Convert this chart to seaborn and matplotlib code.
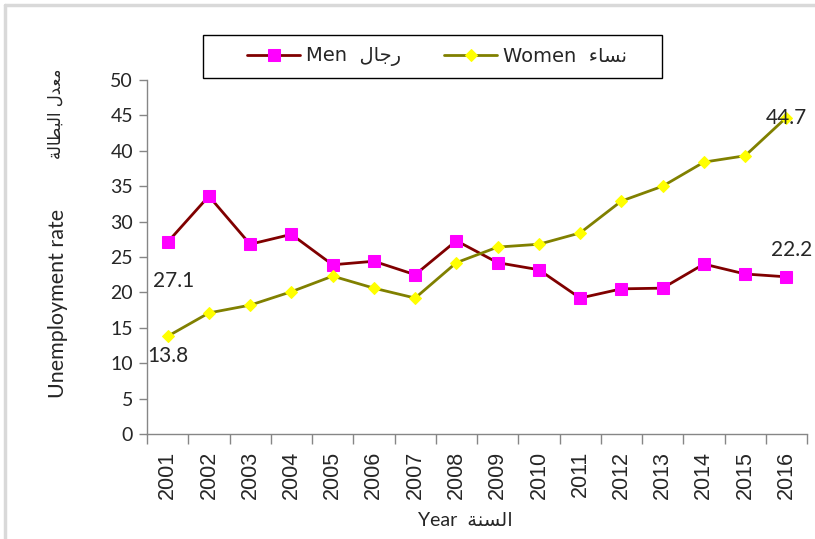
import numpy as np
import pandas as pd
import matplotlib.pyplot as plt
from matplotlib.lines import Line2D
from matplotlib.patches import Rectangle
import seaborn as sns

# data
years = ["2001", "2002", "2003", "2004", "2005", "2006", "2007", "2008",
         "2009", "2010", "2011", "2012", "2013", "2014", "2015", "2016"]
men = [27.1, 33.6, 26.8, 28.2, 23.9, 24.4, 22.5, 27.3,
       24.2, 23.2, 19.2, 20.5, 20.6, 24.0, 22.6, 22.2]
women = [13.8, 17.1, 18.2, 20.1, 22.3, 20.6, 19.2, 24.2,
         26.4, 26.8, 28.4, 32.9, 35.0, 38.4, 39.3, 44.7]

# Arabic words, written in presentation forms and visual order
# (matplotlib does no shaping / bidi on its own)
men_ar = "\uFEDD\uFE8E\uFE9F\uFEAD"            # رجال
women_ar = "\uFE80\uFE8E\uFEB4\uFEE7"          # نساء
year_ar = "\uFE94\uFEE8\uFEB4\uFEDF\uFE8D"     # السنة
rate_ar = "\uFE94\uFEDF\uFE8E\uFEC4\uFE92\uFEDF\uFE8D \uFEDD\uFEAA\uFECC\uFEE3"  # معدل البطالة

sns.set_theme(style="white")
plt.rcParams['font.family'] = ['Lato', 'DejaVu Sans']

fig = plt.figure(figsize=(8.15, 5.39), dpi=100)
ax = fig.add_axes([147 / 815, 1 - 434 / 539, 660 / 815, 354 / 539])

sns.lineplot(x=years, y=men, ax=ax, color="#800000", linewidth=2,
             marker="s", markersize=8, markerfacecolor="#FF00FF",
             markeredgecolor="#FF00FF", label="Men  " + men_ar)
sns.lineplot(x=years, y=women, ax=ax, color="#808000", linewidth=2,
             marker="D", markersize=6, markerfacecolor="#FFFF00",
             markeredgecolor="#FFFF00", label="Women  " + women_ar)

# axes styling, Excel-like
ax.set_ylim(0, 50)
ax.set_yticks(np.arange(0, 51, 5))
ax.set_xlim(-0.5, len(years) - 0.5)
ax.set_xticks(np.arange(-0.5, len(years), 1), minor=True)
ax.set_xlabel("")
ax.set_ylabel("")
for side in ["top", "right"]:
    ax.spines[side].set_visible(False)
for side in ["left", "bottom"]:
    ax.spines[side].set_color("#868686")
    ax.spines[side].set_linewidth(1)

ax.tick_params(axis="y", which="major", direction="out", length=6,
               color="#868686", width=1, labelsize=14, pad=4, left=True)
ax.tick_params(axis="x", which="major", length=0, labelsize=15.5, pad=12,
               labelrotation=90)
ax.tick_params(axis="x", which="minor", direction="out", length=7,
               color="#868686", width=1, bottom=True)
for lbl in ax.get_xticklabels():
    lbl.set_family("Liberation Sans")

# data labels
ax.annotate("27.1", xy=(0, men[0]), xytext=(4, -28), textcoords="offset points",
            ha="center", va="center", fontsize=15)
ax.annotate("13.8", xy=(0, women[0]), xytext=(0, -14), textcoords="offset points",
            ha="center", va="center", fontsize=15)
ax.annotate("44.7", xy=(15, women[-1]), xytext=(0, 0), textcoords="offset points",
            ha="center", va="center", fontsize=15)
ax.annotate("22.2", xy=(15, men[-1]), xytext=(4, 19), textcoords="offset points",
            ha="center", va="center", fontsize=15)

# legend: entries without frame, box drawn separately (wide padding like Excel)
ax.legend(loc="center", bbox_to_anchor=(437 / 815, 1 - 56.5 / 539),
          bbox_transform=fig.transFigure, ncol=2, frameon=False,
          prop={"family": "DejaVu Sans", "size": 14},
          handlelength=2.75, handletextpad=0.3, columnspacing=2.2,
          borderpad=0, borderaxespad=0)
fig.add_artist(Rectangle((203 / 815, 1 - 78 / 539), 459 / 815, 43 / 539,
                         transform=fig.transFigure, fill=False,
                         edgecolor="black", linewidth=1))

# axis titles (English + Arabic)
fig.text(58 / 815, 1 - 303 / 539, "Unemployment rate", rotation=90,
         ha="center", va="center", fontsize=15.5)
fig.text(56 / 815, 1 - 114 / 539, rate_ar, rotation=90, ha="center",
         va="center", fontsize=12, family="DejaVu Sans")
fig.text(465 / 815, 1 - 521 / 539, "Year  " + year_ar, ha="center",
         va="center", fontsize=14, family=["Lato", "DejaVu Sans"])

# light gray picture frame
fig.add_artist(Line2D([4.5 / 815, 4.5 / 815], [0, 1 - 4.5 / 539],
                      color="#D9D9D9", lw=2.5, transform=fig.transFigure))
fig.add_artist(Line2D([4.5 / 815, 1], [1 - 4.5 / 539, 1 - 4.5 / 539],
                      color="#D9D9D9", lw=2.5, transform=fig.transFigure))

fig.savefig("out.png", dpi=100)
